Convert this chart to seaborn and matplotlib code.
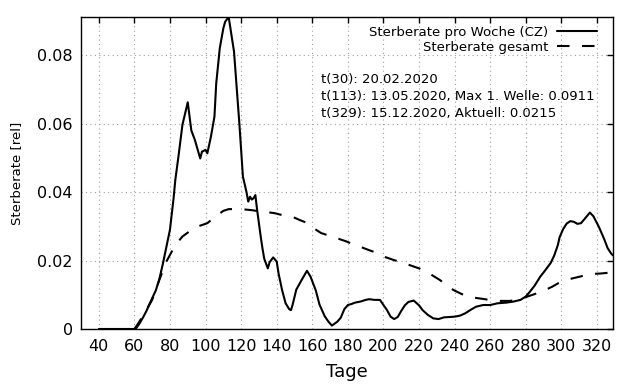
import matplotlib
matplotlib.use('Agg')
import matplotlib.pyplot as plt
from matplotlib.ticker import FuncFormatter
import pandas as pd
import seaborn as sns

# Weekly death rate (CZ)
week_days = [40, 45, 50, 55, 60, 61, 63, 65, 67, 70, 72, 74, 76, 78, 80, 82, 83, 85, 87, 90,
             92, 94, 97, 98, 100, 101, 103, 105, 106, 108, 110, 111, 113, 116, 117, 118, 119, 120,
             121, 123, 124, 125, 126, 127, 128, 129, 131, 132, 133, 135, 136, 138, 140, 141, 143,
             145, 147, 148, 149, 151, 154, 157, 159, 162, 164, 167, 169, 171, 174, 176, 178, 180,
             182, 184, 187, 190, 192, 195, 198, 200, 202, 204, 206, 208, 210, 212, 214, 217, 220,
             222, 225, 228, 231, 234, 237, 240, 243, 246, 249, 252, 256, 260, 264, 269, 273, 277,
             280, 282, 285, 288, 291, 294, 296, 298, 299, 301, 303, 305, 307, 309, 311, 313, 316,
             318, 321, 324, 326, 328, 329]
week_rate = [0, 0, 0, 0, 0, 0.0002, 0.0017, 0.0035, 0.0055, 0.009, 0.0112, 0.0145, 0.019, 0.024,
             0.029, 0.038, 0.0435, 0.0513, 0.0596, 0.0662, 0.058, 0.0552, 0.0498, 0.0518, 0.0523,
             0.0513, 0.0561, 0.062, 0.0717, 0.082, 0.0878, 0.0897, 0.0911, 0.081, 0.074, 0.067,
             0.060, 0.052, 0.0445, 0.0400, 0.0372, 0.0386, 0.0378, 0.0382, 0.0391, 0.0347, 0.027,
             0.0235, 0.0205, 0.0177, 0.0195, 0.0209, 0.0197, 0.0163, 0.0114, 0.0075, 0.0058,
             0.0055, 0.0072, 0.0115, 0.0143, 0.017, 0.0153, 0.0112, 0.0072, 0.0037, 0.0022,
             0.0010, 0.0021, 0.0033, 0.0058, 0.0070, 0.0073, 0.0077, 0.0080, 0.0085, 0.0087,
             0.0085, 0.0085, 0.007, 0.0055, 0.0036, 0.0029, 0.0035, 0.0053, 0.0069, 0.0079,
             0.0083, 0.0069, 0.0055, 0.0041, 0.0031, 0.0029, 0.0034, 0.0035, 0.0036, 0.0039,
             0.0046, 0.0056, 0.0065, 0.0070, 0.0070, 0.0075, 0.0077, 0.0080, 0.0085, 0.0095,
             0.0107, 0.0127, 0.0152, 0.0172, 0.0193, 0.0215, 0.0245, 0.0268, 0.0292, 0.0308,
             0.0315, 0.0313, 0.0307, 0.0309, 0.0321, 0.034, 0.0329, 0.0299, 0.0263, 0.0236,
             0.0220, 0.0215]

# Overall death rate
total_days = [60, 62, 65, 70, 74, 78, 81, 83, 87, 92, 96, 101, 105, 110, 113, 118, 122, 126, 131,
              135, 139, 145, 150, 153, 158, 162, 165, 171, 175, 179, 184, 188, 192, 197, 201, 206,
              210, 215, 220, 224, 228, 232, 236, 240, 244, 249, 253, 257, 263, 268, 271, 277, 281,
              285, 291, 295, 298, 304, 308, 312, 318, 322, 326, 329]
total_rate = [0, 0.0015, 0.004, 0.0085, 0.0143, 0.0197, 0.0226, 0.0245, 0.027, 0.0289, 0.030,
              0.0309, 0.0326, 0.0345, 0.035, 0.035, 0.0349, 0.0347, 0.0343, 0.0341, 0.0338, 0.033,
              0.0325, 0.0318, 0.0308, 0.029, 0.0280, 0.027, 0.0263, 0.0256, 0.0245, 0.0238, 0.0230,
              0.0221, 0.021, 0.0201, 0.0195, 0.0186, 0.0177, 0.0167, 0.0155, 0.0142, 0.0124,
              0.0112, 0.0102, 0.0093, 0.009, 0.0087, 0.0082, 0.0082, 0.0082, 0.0087, 0.0095,
              0.0102, 0.0114, 0.0124, 0.0133, 0.0145, 0.0150, 0.0155, 0.0161, 0.0162, 0.0164,
              0.0167]

series_labels = ["Sterberate pro Woche (CZ)", "Sterberate gesamt"]
info_lines = ["t(30): 20.02.2020",
              "t(113): 13.05.2020, Max 1. Welle: 0.0911",
              "t(329): 15.12.2020, Aktuell: 0.0215"]
x_ticks = list(range(40, 321, 20))
y_ticks = [0, 0.02, 0.04, 0.06, 0.08]

sns.set_style("white")
plt.rcParams.update({
    "font.family": ["DejaVu Sans"],
    "text.color": "black",
    "axes.labelcolor": "black",
    "xtick.color": "black",
    "ytick.color": "black",
    "xtick.direction": "in",
    "ytick.direction": "in",
    "xtick.top": True,
    "ytick.right": True,
    "xtick.major.size": 4.5,
    "ytick.major.size": 4.5,
    "axes.edgecolor": "black",
    "axes.linewidth": 1.0,
})

fig = plt.figure(figsize=(6.4, 3.84), dpi=100)
ax = fig.add_axes([81 / 640, 55 / 384, 532 / 640, 312 / 384])

week_df = pd.DataFrame({"Tage": week_days, "rate": week_rate})
total_df = pd.DataFrame({"Tage": total_days, "rate": total_rate})

sns.lineplot(data=week_df, x="Tage", y="rate", ax=ax, color="black", lw=1.5,
             label=series_labels[0])
sns.lineplot(data=total_df, x="Tage", y="rate", ax=ax, color="black", lw=1.5,
             label=series_labels[1])
ax.lines[1].set_dashes((6, 6))

ax.set_xlim(30, 329)
ax.set_ylim(0, 0.0911)
ax.set_xticks(x_ticks)
ax.set_yticks(y_ticks)
ax.yaxis.set_major_formatter(FuncFormatter(lambda v, p: "%g" % v))
ax.tick_params(axis="both", labelsize=11.5, width=1.0, color="black", labelcolor="black")
ax.tick_params(axis="x", pad=7)
ax.tick_params(axis="y", pad=6)
ax.grid(True, color="#a0a0a0", linestyle=(0, (1, 3)), linewidth=0.8)

ax.set_xlabel("Tage", fontsize=13, labelpad=7)
ax.set_ylabel("Sterberate [rel]", fontsize=9.5, labelpad=10)

leg = ax.legend(loc="upper right", bbox_to_anchor=(0.97, 0.972), markerfirst=False,
                frameon=False, fontsize=9.5, handlelength=3.0, handletextpad=0.7,
                labelspacing=0.15, borderpad=0, borderaxespad=0)

for i, line in enumerate(info_lines):
    ax.text(0.451, 0.801 - i * 0.0545, line, transform=ax.transAxes, fontsize=9.5,
            ha="left", va="center")

fig.savefig("out.png", dpi=100)
